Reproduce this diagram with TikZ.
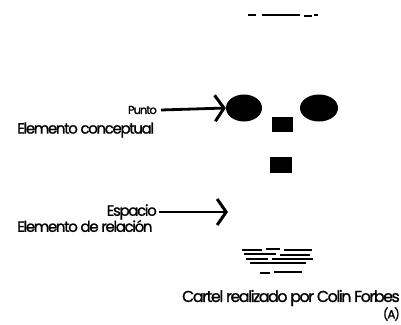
\documentclass[tikz,border=0pt]{standalone}
\usepackage{fontspec}
\setmainfont{Poppins}[LetterSpace=-9, FakeBold=1.2]
\usetikzlibrary{arrows.meta,positioning,shapes.geometric}

\begin{document}
\begin{tikzpicture}[x=1pt,y=-1pt,
      arr/.style={-{Straight Barb[length=9pt,width=26pt,line width=3pt]}, line width=2.8pt, black},
      lbl/.style={inner sep=0pt, anchor=east},
      sub/.style={inner sep=0pt, anchor=west, font=\fontsize{15}{17}\selectfont},
      blob/.style={fill=black, draw=none},
      strk/.style={line width=1.2pt, black}
    ]
    \useasboundingbox (0,0) rectangle (401,324);

    % top marks
    \draw[strk] (248,15) -- (256,15);
    \draw[strk, line width=1.8pt] (262,15) -- (300,15);
    \draw[strk] (304,16) -- (312,16) (314,15) -- (318,15);

    % elements
    \node[blob, ellipse, minimum width=36pt, minimum height=27pt, inner sep=0pt] (pt1) at (244,108) {};
    \node[blob, ellipse, minimum width=38pt, minimum height=27pt, inner sep=0pt] (pt2) at (319,108) {};
    \node[blob, rectangle, minimum width=21pt, minimum height=15pt, inner sep=0pt] (sq1) at (282,124) {};
    \node[blob, rectangle, minimum width=22pt, minimum height=16pt, inner sep=0pt] (sq2) at (281,165) {};

    % labels
    \node[lbl, font=\fontsize{11.5}{13}\selectfont] (punto) at (157,110) {Punto};
    \node[sub] (concep) at (17,130) {Elemento conceptual};
    \node[lbl, font=\fontsize{15}{17}\selectfont] (espacio) at (157,212) {Espacio};
    \node[sub] (relac) at (17,226) {Elemento de relación};
    \coordinate (espfin) at (228,212);

    \draw[arr] (punto.east) ++(4,0) -- (pt1.west);
    \draw[arr] (espacio.east) ++(2,0) -- (espfin);

    % logo
    \draw[strk] (242,250) -- (262,250) (266,249) -- (280,249) (284,250) -- (312,250);
    \draw[strk] (244,254) -- (276,254) (280,255) -- (310,255);
    \draw[strk] (246,259) -- (268,259) (272,259) -- (313,259);
    \draw[strk] (250,263) -- (306,263);
    \draw[strk] (260,273) -- (270,273) (274,272) -- (302,272);

    % credits
    \node[inner sep=0pt, anchor=east, font=\fontsize{15.8}{18}\selectfont] (cartel) at (400,298) {Cartel realizado por Colin Forbes};
    \node[inner sep=0pt, anchor=east, font=\fontsize{12}{13}\selectfont] (ref) at (400,314) {(A)};
  \end{tikzpicture}
\end{document}
